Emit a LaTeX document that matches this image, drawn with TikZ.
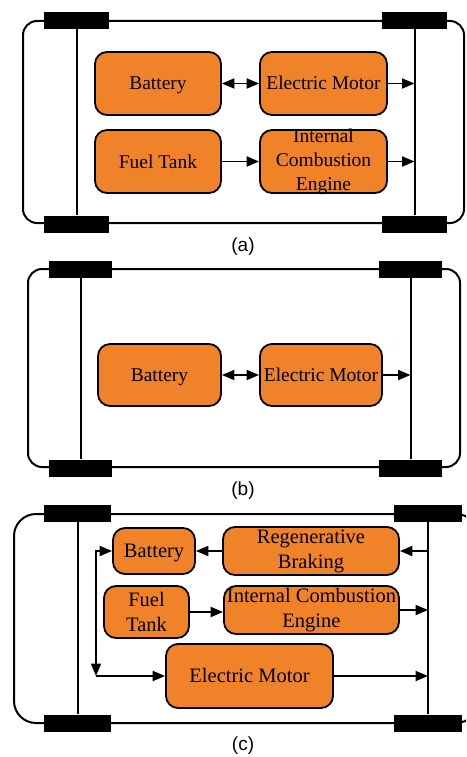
\documentclass[tikz,border=0pt]{standalone}
\usepackage{fontspec}
\setmainfont{Liberation Serif}
\setsansfont{Liberation Sans}
\usetikzlibrary{arrows.meta}
\definecolor{boxorange}{RGB}{240,131,41}
\begin{document}
\begin{tikzpicture}[x=1pt,y=-1pt,
  wheel/.style={fill=black, draw=none, rectangle, inner sep=0, minimum height=17pt},
  carbody/.style={line width=2pt},
  axle/.style={line width=2pt},
  box/.style={draw=black, line width=1.8pt, fill=boxorange, rounded corners=12pt, inner sep=0, align=center, font=\fontsize{19.5}{24}\selectfont},
  boxc/.style={box, font=\fontsize{20.5}{25}\selectfont},
  oneline/.style={align=none, text height=13pt, text depth=0pt},
  arr/.style={line width=1.9pt, -{Triangle[length=12.5pt,width=10pt]}},
  darr/.style={line width=1.9pt, {Triangle[length=12.5pt,width=10pt]}-{Triangle[length=12.5pt,width=10pt]}},
  sublabel/.style={font=\sffamily\fontsize{19}{22}\selectfont}
]
\useasboundingbox (0,0) rectangle (466,757);
\clip (0,0) rectangle (466,757);

% ---------------- (a)
\draw[carbody, rounded corners=14pt] (23,21) rectangle (464,223);
\node[wheel, minimum width=65pt] (a-tl) at (76.5,20.5) {};
\node[wheel, minimum width=65pt] (a-tr) at (414.5,20.5) {};
\node[wheel, minimum width=65pt] (a-bl) at (76.5,224) {};
\node[wheel, minimum width=65pt] (a-br) at (414.5,224) {};
\draw[axle] (a-tl.south) -- (a-bl.north);
\draw[axle] (a-tr.south) -- (a-br.north);
\node[box, oneline, minimum width=126pt, minimum height=63pt] (a-bat) at (158,83.5) {Battery};
\node[box, oneline, minimum width=127pt, minimum height=63pt] (a-em) at (323.5,83.5) {Electric Motor};
\node[box, oneline, minimum width=126pt, minimum height=63pt] (a-ft) at (158,161.5) {Fuel Tank};
\node[box, minimum width=127pt, minimum height=63pt,
      label={[align=center, font=\fontsize{19.5}{24}\selectfont]center:Internal\\Combustion\\Engine}] (a-ice) at (323.5,161.5) {};
\draw[darr] (a-bat) -- (a-em);
\draw[arr] (a-em) -- (a-em -| a-tr);
\draw[arr] (a-ft) -- (a-ice);
\draw[arr] (a-ice) -- (a-ice -| a-tr);
\node[sublabel] (a-cap) at (243,247) {(a)};

% ---------------- (b)
\draw[carbody, rounded corners=14pt] (28,269) rectangle (460,467);
\node[wheel, minimum width=63pt] (b-tl) at (80.5,269.5) {};
\node[wheel, minimum width=63pt] (b-tr) at (410.5,269.5) {};
\node[wheel, minimum width=63pt] (b-bl) at (80.5,468) {};
\node[wheel, minimum width=63pt] (b-br) at (410.5,468) {};
\draw[axle] (b-tl.south) -- (b-bl.north);
\draw[axle] (b-tr.south) -- (b-br.north);
\node[box, oneline, minimum width=123pt, minimum height=62pt] (b-bat) at (159.5,375) {Battery};
\node[box, oneline, minimum width=122pt, minimum height=62pt] (b-em) at (321,375) {Electric Motor};
\draw[darr] (b-bat) -- (b-em);
\draw[arr] (b-em) -- (b-em -| b-tr);
\node[sublabel] (b-cap) at (243,491) {(b)};

% ---------------- (c)
\draw[carbody, rounded corners=22pt] (14,514) rectangle (478,723);
\node[wheel, minimum width=67pt] (c-tl) at (77.5,513.5) {};
\node[wheel, minimum width=68pt] (c-tr) at (428,513.5) {};
\node[wheel, minimum width=67pt] (c-bl) at (77.5,723) {};
\node[wheel, minimum width=68pt] (c-br) at (428,723) {};
\draw[axle] (c-tl.south) -- (c-bl.north);
\draw[axle] (c-tr.south) -- (c-br.north);
\node[boxc, oneline, minimum width=82pt, minimum height=46pt] (c-bat) at (154,551) {Battery};
\node[boxc, minimum width=176pt, minimum height=48pt] (c-rb) at (311,551) {Regenerative\\Braking};
\node[boxc, minimum width=85pt, minimum height=52pt] (c-ft) at (146.5,612) {Fuel\\Tank};
\node[boxc, minimum width=175pt, minimum height=48pt] (c-ice) at (311.5,610) {Internal Combustion\\Engine};
\node[boxc, oneline, minimum width=167pt, minimum height=64pt] (c-em) at (249.5,676) {Electric Motor};
\coordinate (c-turn) at (96,676);
\draw[arr] (c-rb -| c-tr) -- (c-rb);
\draw[arr] (c-rb) -- (c-bat);
\draw[darr] (c-bat.west) -- (c-bat.west -| c-turn) -- (c-turn);
\draw[arr] (c-turn) -- (c-em);
\draw[arr] (c-ft.east) -- (c-ft.east -| c-ice.west);
\draw[arr] (c-ice) -- (c-ice -| c-tr);
\draw[arr] (c-em) -- (c-em -| c-tr);
\node[sublabel] (c-cap) at (243,746) {(c)};
\end{tikzpicture}
\end{document}
